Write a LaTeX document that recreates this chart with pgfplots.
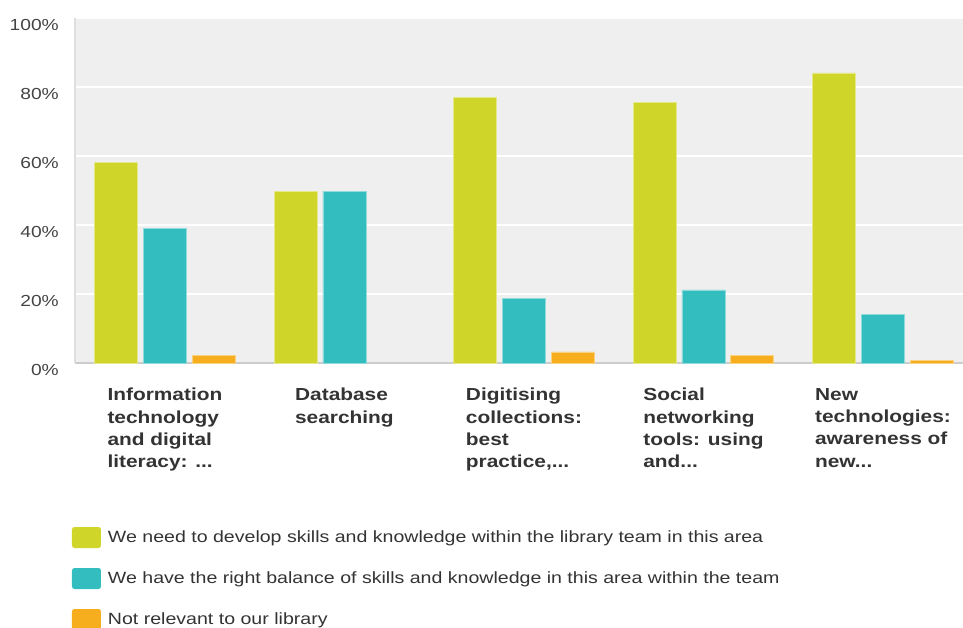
\documentclass[border=0pt]{standalone}
\usepackage{fontspec}
\setmainfont[FakeStretch=1.2]{Liberation Sans}
\usepackage{pgfplots}
\pgfplotsset{compat=1.18}
\definecolor{cgreen}{RGB}{207,213,41}
\definecolor{cteal}{RGB}{52,189,191}
\definecolor{corange}{RGB}{246,174,30}
\definecolor{plotbg}{RGB}{239,239,239}
\definecolor{ticktext}{RGB}{68,68,68}
\definecolor{labtext}{RGB}{51,51,51}
\newcommand{\dd}{.{}.{}.}
\begin{document}
\begin{tikzpicture}
\useasboundingbox (-75pt,-265pt) rectangle (888pt,363pt);
\clip (-75pt,-265pt) rectangle (888pt,363pt);
\begin{axis}[
  at={(0pt,0pt)}, anchor=south west,
  scale only axis,
  width=888pt, height=345pt,
  xmin=-0.501, xmax=4.446,
  ymin=0, ymax=100,
  axis background/.style={fill=plotbg},
  axis lines*=left,
  x axis line style={draw=black!20, line width=2pt},
  y axis line style={draw=black!13, line width=2pt},
  major tick length=0pt,
  ymajorgrids,
  grid style={white, line width=1.5pt},
  ytick={0,20,40,60,80,100},
  yticklabels={0\%,20\%,40\%,60\%,80\%,100\%},
  yticklabel style={font=\fontsize{16}{18}\selectfont, text=ticktext, anchor=east, inner sep=0pt, xshift=-16pt, yshift=-7pt},
  xtick={0,1,2,3,4},
  xticklabels={
    {Information\\technology\\and digital\\literacy: \dd},
    {Database\\searching},
    {Digitising\\collections:\\best\\practice,\dd},
    {Social\\networking\\tools: using\\and\dd},
    {New\\technologies:\\awareness of\\new\dd}},
  xticklabel style={font=\fontsize{17.4}{22.3}\selectfont\bfseries, text=labtext, align=left, anchor=north, inner sep=0pt, yshift=-25pt},
  ybar=5.7pt,
  bar width=43pt,
  legend cell align=left,
  legend style={
    at={(axis description cs:0,0)}, anchor=north west,
    xshift=-3pt, yshift=-164pt,
    draw=none, fill=none, inner sep=0pt, outer sep=0pt,
    nodes={inner sep=0pt, text=labtext, font=\fontsize{16.3}{19}\selectfont},
    row sep=20pt,
    /tikz/column sep=7pt,
  },
  legend image code/.code={\fill[#1, draw=none, rounded corners=2.5pt] (0pt,-10.5pt) rectangle (29pt,10.5pt);},
]
\addplot[fill=cgreen, draw=cgreen!55!white, line width=0.6pt] coordinates {(0,58.1) (1,49.8) (2,77.0) (3,75.6) (4,84.1)};
\addplot[fill=cteal, draw=cteal!55!white, line width=0.6pt] coordinates {(0,39.1) (1,49.8) (2,18.7) (3,21.2) (4,14.2)};
\addplot[fill=corange, draw=corange!55!white, line width=0.6pt] coordinates {(0,2.2) (2,3.2) (3,2.2) (4,0.8)};
\addlegendentry{We need to develop skills and knowledge within the library team in this area}
\addlegendentry{We have the right balance of skills and knowledge in this area within the team}
\addlegendentry{Not relevant to our library}
\end{axis}
\end{tikzpicture}
\end{document}
